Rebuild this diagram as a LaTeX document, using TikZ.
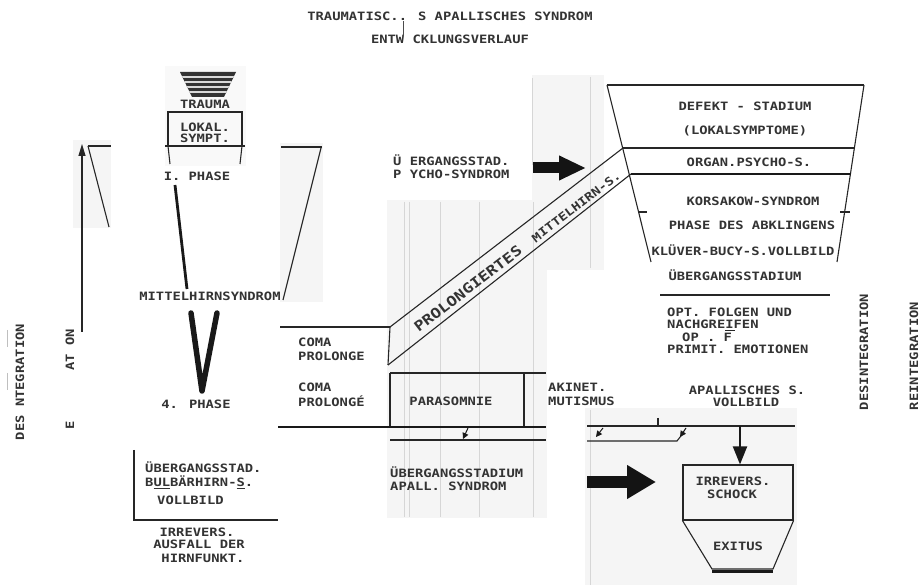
\documentclass[tikz,border=0pt]{standalone}
\usepackage{fontspec}
\newfontfamily\tw[FakeStretch=1.2]{DejaVu Sans Mono}
\usetikzlibrary{arrows.meta}
\begin{document}
\begin{tikzpicture}[x=1pt,y=-1pt,
  txt/.style={font=\tw\bfseries\fontsize{11.5}{13}\selectfont, inner sep=0pt, text=black!80},
  ln/.style={line width=1.1pt, draw=black!85},
  thk/.style={line width=1.7pt, draw=black!90},
  paper/.style={fill=black!4, draw=none},
  ghost/.style={draw=black!16, line width=0.8pt},
  tiny/.style={black!90, line width=1pt, -{Triangle[length=6pt,width=6pt]}}]
\useasboundingbox (0,0) rectangle (922,585);

% scan patches
\fill[paper] (73,140) rectangle (111,228);
\fill[paper] (280,143) rectangle (323,302);
\fill[black!2.5] (165,66) rectangle (246,166);
\fill[paper] (387,200) rectangle (547,518);
\fill[paper] (532,75) rectangle (604,270);
\fill[paper] (585,408) rectangle (797,585);
\foreach \gx in {404,409,440,479,533} \draw[ghost] (\gx,202) -- (\gx,517);
\draw[ghost] (590,77) -- (590,268);
\draw[ghost] (590,410) -- (590,585);
\draw[ghost] (532,78) -- (532,165);

% title
\node[txt] (title1) at (450,16) {TRAUMATISC.. S APALLISCHES SYNDROM};
\node[txt] (title2) at (450,39) {ENTW CKLUNGSVERLAUF};
\draw[black!70, line width=0.6pt] (403,21) -- (403,36);

% trauma funnel
\begin{scope}
\clip (180,72) -- (236,72) -- (224,97) -- (192,97) -- cycle;
\fill[black!80] (178,70) rectangle (238,99);
\foreach \sy in {77,82,87,92} \draw[white!85!black, line width=1.4pt] (176,\sy) -- (240,\sy);
\end{scope}
\node[txt] (trauma) at (205,104) {TRAUMA};
\draw[ln] (168,112) rectangle (242,146);
\node[txt] (lok1) at (205,127) {LOKAL.};
\node[txt] (lok2) at (205,138.5) {SYMPT.};
\draw[ln] (165,146) -- (245,146);
\draw[ln] (168,146) -- (170,164);
\draw[ln] (242,146) -- (240,164);
\node[txt] (ph1) at (197,176) {I. PHASE};

% left trapezoid pieces
\draw[ln] (88,146) -- (111,146);
\draw[ln] (88,146) -- (109,227);
\draw[ln] (281,147) -- (322,147);
\draw[ln] (321,148) -- (283,300);

% vertical arrow
\coordinate (ax0) at (82,332);
\coordinate (ax1) at (82,144);
\draw[ln, -{Triangle[length=12pt,width=7pt]}] (ax0) -- (ax1);

% thick line and V
\coordinate (tl0) at (175,185);
\coordinate (tl1) at (187,289);
\draw[line width=2.8pt, black!90] (tl0) -- (tl1);
\node[txt] (mhs) at (210,296) {MITTELHIRNSYNDROM};
\draw[line width=5.5pt, black!90, line join=round, line cap=round] (191,313) -- (202,391) -- (217,313);
\node[txt] (ph4) at (196,404) {4. PHASE};

% left rotated labels
\node[txt, rotate=90] (desl) at (20,382) {DES NTEGRATION};
\draw[black!25, line width=0.8pt] (7,330) -- (7,347);
\draw[black!25, line width=0.8pt] (7,373) -- (7,390);
\node[txt, rotate=90] (aton) at (70,350) {AT ON};
\node[txt, rotate=90] (elet) at (70,425) {E};

% bulbaer box
\draw[ln] (134,450) -- (134,520) -- (278,520);
\node[txt, anchor=west] (ub1) at (145,467) {ÜBERGANGSSTAD.};
\node[txt, anchor=west] (ub2) at (145,482) {B\underline{UL}BÄRHIRN-\underline{S}.};
\node[txt, anchor=west] (ub3) at (157,500) {VOLLBILD};
\node[txt] (irr1) at (197,532) {IRREVERS.};
\node[txt] (irr2) at (199,544.5) {AUSFALL DER};
\node[txt] (irr3) at (203,558) {HIRNFUNKT.};

% middle band
\draw[ln] (280,327) -- (390,327);
\draw[ln] (390,327) -- (623,148);
\draw[ln] (388,365) -- (631,174);
\draw[ln] (390,327) -- (388,365);
\node[txt, rotate=37.5] (band) at (517,251)
  {{\fontsize{14}{16}\selectfont PROLONGIERTES}\hspace{16pt}MITTELHIRN-S.};

\node[txt, anchor=west] (ups1) at (393,160) {Ü ERGANGSSTAD.};
\node[txt, anchor=west] (ups2) at (393,174) {P YCHO-SYNDROM};
\coordinate (ar1s) at (533,168);
\coordinate (ar1e) at (586,168);
\draw[black!92, line width=11pt, -{Triangle[length=27pt,width=23pt]}] (ar1s) -- (ar1e);

% coma
\node[txt, anchor=west] (c1a) at (298,342) {COMA};
\node[txt, anchor=west] (c1b) at (298,356) {PROLONGE};
\node[txt, anchor=west] (c2a) at (298,387) {COMA};
\node[txt, anchor=west] (c2b) at (298,401) {PROLONGÉ};

% parasomnie
\draw[ln] (390,373) -- (546,373);
\draw[ln] (390,373) -- (390,427);
\draw[ln] (524,373) -- (524,427);
\draw[thk] (278,427) -- (546,427);
\draw[ln] (390,440) -- (546,440);
\node[txt] (para) at (451,401) {PARASOMNIE};
\coordinate (sa0) at (468,428);
\coordinate (sa1) at (463,439);
\draw[tiny] (sa0) -- (sa1);

\node[txt, anchor=west] (ak1) at (548,387) {AKINET.};
\node[txt, anchor=west] (ak2) at (548,401) {MUTISMUS};
\node[txt] (ap1) at (747,390) {APALLISCHES S.};
\node[txt] (ap2) at (746,402.5) {VOLLBILD};

\node[txt, anchor=west] (ua1) at (390,472) {ÜBERGANGSSTADIUM};
\node[txt, anchor=west] (ua2) at (390,486) {APALL. SYNDROM};

% right bottom lines
\draw[ln] (587,426) -- (795,426);
\draw[ln] (658,418) -- (658,426);
\draw[ln] (587,441) -- (677,441) -- (684,432);
\coordinate (sb0) at (603,428);
\coordinate (sb1) at (596,437);
\draw[tiny] (sb0) -- (sb1);
\coordinate (sc0) at (686,428);
\coordinate (sc1) at (680,437);
\draw[tiny] (sc0) -- (sc1);

% schock / exitus
\node[draw=black!85, line width=1.1pt, minimum width=110pt, minimum height=55pt, inner sep=0pt] (schock) at (738,492.5) {};
\draw[line width=2.5pt, black!85] (793,465) -- (793,520);
\node[txt] (s1) at (733,481) {IRREVERS.};
\node[txt] (s2) at (732,494) {SCHOCK};
\draw[ln] (schock.south west) -- (712,569) -- (773,569) -- (schock.south east);
\draw[line width=3pt, black!90] (712,571) -- (773,571);
\node[txt] (exitus) at (738,546) {EXITUS};

\coordinate (va0) at (740,426);
\draw[black!90, line width=2pt, -{Triangle[length=18pt,width=14pt]}] (va0) -- (schock.north -| va0);
\coordinate (bg0) at (587,482);
\coordinate (bg1) at (656,482);
\draw[black!92, line width=12pt, -{Triangle[length=29pt,width=32pt]}] (bg0) -- (bg1);

% right trapezoid
\draw[ln] (607,85) -- (864,85);
\draw[ln] (607,85) -- (651,262);
\draw[ln] (864,85) -- (837,262);
\draw[ln] (623,148) -- (855,148);
\draw[thk] (631,174) -- (851,174);
\draw[ln] (639,212) -- (647,212);
\draw[ln] (840,212) -- (850,212);
\node[txt] (df) at (745,106) {DEFEKT - STADIUM};
\node[txt] (lk) at (745,131) {(LOKALSYMPTOME)};
\node[txt] (ops) at (749,162) {ORGAN.PSYCHO-S.};
\node[txt] (ko) at (753,201) {KORSAKOW-SYNDROM};
\node[txt] (pa) at (752,225) {PHASE DES ABKLINGENS};
\node[txt] (kl) at (743,250) {KLÜVER-BUCY-S.VOLLBILD};
\node[txt] (ue) at (735,275) {ÜBERGANGSSTADIUM};
\draw[ln] (660,295) -- (830,295);
\node[txt, anchor=west] (of1) at (667,312) {OPT. FOLGEN UND};
\node[txt, anchor=west] (of2) at (667,324.5) {NACHGREIFEN};
\node[txt, anchor=west] (of3) at (682,337) {OP . F};
\node[txt, anchor=west] (of4) at (667,349.5) {PRIMIT. EMOTIONEN};
\draw[black!85, line width=0.9pt] (725,330.5) -- (735,330.5);

% right rotated labels
\node[txt, rotate=90] (dsr) at (864,352) {DESINTEGRATION};
\node[txt, rotate=90] (rei) at (914,356) {REINTEGRATION};
\end{tikzpicture}
\end{document}
